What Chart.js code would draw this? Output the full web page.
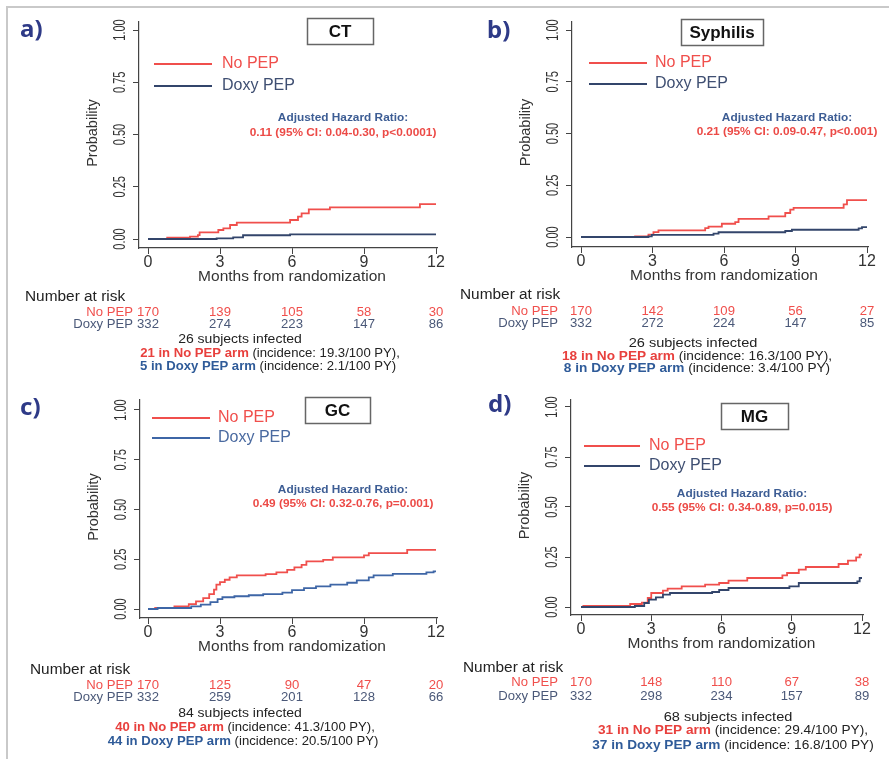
<!DOCTYPE html>
<html lang="en">
<head>
<meta charset="UTF-8">
<title>Doxy PEP cumulative incidence</title>
<script src="https://cdn.jsdelivr.net/npm/chart.js@4.4.1/dist/chart.umd.min.js"></script>
<style>
  body { margin: 0; background: #fff; }
  #wrap { position: relative; width: 889px; height: 759px; overflow: hidden; }
  #frame { position: absolute; left: 6px; top: 6px; width: 900px; height: 800px;
           border-top: 2px solid #c9c9c9; border-left: 2px solid #c9c9c9; }
  canvas { position: absolute; }
</style>
</head>
<body>
<div id="wrap">
  <div id="frame"></div>
  <canvas id="pa" width="445" height="385" style="left:0;top:0"></canvas>
  <canvas id="pb" width="444" height="385" style="left:445px;top:0"></canvas>
  <canvas id="pc" width="445" height="374" style="left:0;top:385px"></canvas>
  <canvas id="pd" width="444" height="374" style="left:445px;top:385px"></canvas>
</div>
<script>
// axis ticks
const months = [0, 3, 6, 9, 12];
const probTicks = [0, 0.25, 0.5, 0.75, 1];
const probLabels = ['0.00', '0.25', '0.50', '0.75', '1.00'];

// a) CT
const ctNoPepT = [0, 0.8, 1.75, 2.08, 2.15, 2.93, 3.14, 3.42, 3.7, 5.92, 6.25, 6.4, 6.7, 7.58, 11.33, 12];
const ctNoPep  = [0, 0.006, 0.011, 0.019, 0.032, 0.043, 0.051, 0.067, 0.078, 0.091, 0.107, 0.123, 0.142, 0.151, 0.167, 0.167];
const ctDoxyT  = [0, 2.86, 3.55, 3.96, 5.92, 12];
const ctDoxy   = [0, 0.003, 0.008, 0.018, 0.022, 0.022];
const ctRiskNoPep = [170, 139, 105, 58, 30];
const ctRiskDoxy  = [332, 274, 223, 147, 86];

// b) Syphilis
const syNoPepT = [0, 2.27, 2.83, 3.04, 3.25, 5.21, 5.35, 5.91, 6.47, 6.61, 7.87, 8.57, 8.78, 8.92, 11.02, 11.16, 12];
const syNoPep  = [0, 0.003, 0.011, 0.024, 0.032, 0.043, 0.05, 0.064, 0.072, 0.088, 0.1, 0.116, 0.132, 0.141, 0.158, 0.178, 0.178];
const syDoxyT  = [0, 2.83, 2.97, 5.56, 5.77, 8.57, 8.85, 11.65, 11.79, 12];
const syDoxy   = [0, 0.003, 0.01, 0.016, 0.023, 0.029, 0.035, 0.042, 0.048, 0.048];
const syRiskNoPep = [170, 142, 109, 56, 27];
const syRiskDoxy  = [332, 272, 224, 147, 85];

// c) GC
const gcNoPepT = [0, 0.3, 1.1, 1.7, 2.0, 2.3, 2.55, 2.75, 2.85, 3.0, 3.2, 3.4, 3.7, 4.9, 5.35, 5.8, 6.1, 6.4, 6.6, 7.3, 7.7, 9.0, 9.2, 10.8, 12];
const gcNoPep  = [0, 0.005, 0.013, 0.025, 0.038, 0.055, 0.075, 0.097, 0.122, 0.135, 0.147, 0.159, 0.169, 0.175, 0.184, 0.197, 0.209, 0.222, 0.239, 0.247, 0.259, 0.269, 0.281, 0.297, 0.297];
const gcDoxyT  = [0, 0.4, 1.8, 2.2, 2.6, 2.9, 3.1, 3.6, 4.2, 4.8, 5.6, 6.0, 6.5, 7.0, 7.6, 8.3, 8.7, 9.2, 9.4, 10.2, 11.6, 11.9, 12];
const gcDoxy   = [0, 0.005, 0.013, 0.022, 0.035, 0.05, 0.059, 0.064, 0.069, 0.075, 0.082, 0.095, 0.105, 0.114, 0.122, 0.132, 0.144, 0.159, 0.169, 0.177, 0.184, 0.189, 0.189];
const gcRiskNoPep = [170, 125, 90, 47, 20];
const gcRiskDoxy  = [332, 259, 201, 128, 66];

// d) MG
const mgNoPepT = [0, 0.1, 2.1, 2.6, 2.85, 3.0, 3.5, 3.7, 4.3, 5.3, 5.9, 6.3, 7.1, 8.6, 8.8, 9.3, 9.6, 11.0, 11.4, 11.75, 11.9, 12];
const mgNoPep  = [0, 0.005, 0.015, 0.022, 0.045, 0.07, 0.082, 0.092, 0.103, 0.112, 0.12, 0.132, 0.145, 0.158, 0.17, 0.187, 0.2, 0.215, 0.232, 0.248, 0.262, 0.262];
const mgDoxyT  = [0, 2.3, 2.7, 2.9, 3.2, 3.5, 3.8, 5.6, 5.9, 6.3, 8.9, 9.3, 11.8, 11.9, 12];
const mgDoxy   = [0, 0.005, 0.02, 0.037, 0.048, 0.062, 0.07, 0.075, 0.085, 0.095, 0.103, 0.12, 0.128, 0.145, 0.145];
const mgRiskNoPep = [170, 148, 110, 67, 38];
const mgRiskDoxy  = [332, 298, 234, 157, 89];

const RED = '#f04f4c';
const NAVY = '#33456b';
const MIDBLUE = '#3e66a6';
const SANS = '"Liberation Sans", Arial, sans-serif';

// one entry per panel: texts + where things go (page pixels)
const panels = [
  { id: 'pa', ox: 0, oy: 0, letter: 'a)', title: 'CT', doxyColor: NAVY,
    noT: ctNoPepT, no: ctNoPep, dxT: ctDoxyT, dx: ctDoxy, riskNo: ctRiskNoPep, riskDx: ctRiskDoxy,
    hr: '0.11 (95% CI: 0.04-0.30, p<0.0001)',
    sum: ['26 subjects infected', '21 in No PEP arm', ' (incidence: 19.3/100 PY),', '5 in Doxy PEP arm', ' (incidence: 2.1/100 PY)'],
    ax: { axisX: 139, t0X: 148, t12X: 436, p1Y: 30, p0Y: 239, axisY: 248, topY: 22 },
    box: [307, 18, 66, 26], let: [20, 30], leg: [154, 212, 222, 64, 86], hrPos: [343, 118, 133],
    risk: [25, 297, 133, 313, 325], sumX: [240, 270, 268], sumY: [340, 354, 367], sumFs: 12.5 },
  { id: 'pb', ox: 445, oy: 0, letter: 'b)', title: 'Syphilis', doxyColor: NAVY,
    noT: syNoPepT, no: syNoPep, dxT: syDoxyT, dx: syDoxy, riskNo: syRiskNoPep, riskDx: syRiskDoxy,
    hr: '0.21 (95% CI: 0.09-0.47, p<0.001)',
    sum: ['26 subjects infected', '18 in No PEP arm', ' (incidence: 16.3/100 PY),', '8 in Doxy PEP arm', ' (incidence: 3.4/100 PY)'],
    ax: { axisX: 572, t0X: 581, t12X: 867, p1Y: 30, p0Y: 237, axisY: 247, topY: 22 },
    box: [681, 19, 82, 26], let: [487, 31], leg: [589, 647, 655, 63, 84], hrPos: [787, 118, 132],
    risk: [460, 295, 558, 312, 324], sumX: [693, 697, 697], sumY: [343, 356, 368], sumFs: 13 },
  { id: 'pc', ox: 0, oy: 385, letter: 'c)', title: 'GC', doxyColor: MIDBLUE,
    noT: gcNoPepT, no: gcNoPep, dxT: gcDoxyT, dx: gcDoxy, riskNo: gcRiskNoPep, riskDx: gcRiskDoxy,
    hr: '0.49 (95% CI: 0.32-0.76, p=0.001)',
    sum: ['84 subjects infected', '40 in No PEP arm', ' (incidence: 41.3/100 PY),', '44 in Doxy PEP arm', ' (incidence: 20.5/100 PY)'],
    ax: { axisX: 140, t0X: 148, t12X: 436, p1Y: 410, p0Y: 609, axisY: 618, topY: 400 },
    box: [305, 397, 65, 26], let: [20, 408], leg: [152, 210, 218, 418, 438], hrPos: [343, 490, 504],
    risk: [30, 670, 133, 686, 698], sumX: [240, 245, 243], sumY: [714, 728, 742], sumFs: 12.5 },
  { id: 'pd', ox: 445, oy: 385, letter: 'd)', title: 'MG', doxyColor: NAVY,
    noT: mgNoPepT, no: mgNoPep, dxT: mgDoxyT, dx: mgDoxy, riskNo: mgRiskNoPep, riskDx: mgRiskDoxy,
    hr: '0.55 (95% CI: 0.34-0.89, p=0.015)',
    sum: ['68 subjects infected', '31 in No PEP arm', ' (incidence: 29.4/100 PY),', '37 in Doxy PEP arm', ' (incidence: 16.8/100 PY)'],
    ax: { axisX: 571, t0X: 581, t12X: 862, p1Y: 407, p0Y: 607, axisY: 615, topY: 400 },
    box: [721, 403, 67, 26], let: [488, 405], leg: [584, 640, 649, 446, 466], hrPos: [742, 494, 508],
    risk: [463, 668, 558, 683, 697], sumX: [728, 733, 733], sumY: [717, 730, 745], sumFs: 13 }
];

function pts(t, v) { return t.map((x, i) => ({ x: x, y: v[i] })); }

function txt(ctx, s, x, y, font, color, align, sx, rot) {
  ctx.save();
  ctx.translate(x, y);
  if (rot) ctx.rotate(rot);
  ctx.scale(sx || 1, 1);
  ctx.font = font;
  ctx.fillStyle = color;
  ctx.textAlign = align || 'left';
  ctx.textBaseline = 'middle';
  ctx.fillText(s, 0, 0);
  ctx.restore();
}

// mixed bold / plain line, centred on cx
function rich(ctx, parts, cx, y, sx) {
  let w = 0;
  parts.forEach(p => { ctx.font = p.font; w += ctx.measureText(p.t).width * sx; });
  let x = cx - w / 2;
  parts.forEach(p => {
    txt(ctx, p.t, x, y, p.font, p.color, 'left', sx);
    ctx.font = p.font;
    x += ctx.measureText(p.t).width * sx;
  });
}

function panelText(P) {
  return {
    id: 'panelText',
    afterDraw(chart) {
      const ctx = chart.ctx;
      const xs = chart.scales.x, ys = chart.scales.y;
      const L = (x) => x - P.ox, T = (y) => y - P.oy;
      const A = P.ax;

      // tick labels
      probTicks.forEach((v, i) => {
        txt(ctx, probLabels[i], L(A.axisX - 19), ys.getPixelForValue(v), '17px ' + SANS, '#333', 'center', 0.65, -Math.PI / 2);
      });
      months.forEach(m => {
        txt(ctx, String(m), xs.getPixelForValue(m), T(A.axisY + 15), '16px ' + SANS, '#333', 'center');
      });
      // axis titles
      txt(ctx, 'Probability', L(A.axisX - 46), T((A.topY + A.axisY) / 2 - 2), '14.5px ' + SANS, '#333', 'center', 1, -Math.PI / 2);
      txt(ctx, 'Months from randomization', (xs.getPixelForValue(0) + xs.getPixelForValue(12)) / 2, T(A.axisY + 29), '15.5px ' + SANS, '#333', 'center');

      // panel letter
      txt(ctx, P.letter, L(P.let[0]), T(P.let[1]), 'bold 24px "Noto Sans", sans-serif', '#2e3a87', 'left');

      // boxed title
      const b = P.box;
      ctx.save();
      ctx.fillStyle = '#fff';
      ctx.fillRect(L(b[0]), T(b[1]), b[2], b[3]);
      ctx.strokeStyle = '#666';
      ctx.lineWidth = 1.5;
      ctx.strokeRect(L(b[0]) + 0.5, T(b[1]) + 0.5, b[2], b[3]);
      ctx.restore();
      txt(ctx, P.title, L(b[0] + b[2] / 2), T(b[1] + b[3] / 2 + 1), 'bold 17px ' + SANS, '#111', 'center');

      // legend
      const g = P.leg;
      ctx.save();
      ctx.lineWidth = 2;
      ctx.strokeStyle = RED;
      ctx.beginPath(); ctx.moveTo(L(g[0]), T(g[3])); ctx.lineTo(L(g[1]), T(g[3])); ctx.stroke();
      ctx.strokeStyle = P.doxyColor;
      ctx.beginPath(); ctx.moveTo(L(g[0]), T(g[4])); ctx.lineTo(L(g[1]), T(g[4])); ctx.stroke();
      ctx.restore();
      txt(ctx, 'No PEP', L(g[2]), T(g[3]), '16px ' + SANS, RED, 'left');
      txt(ctx, 'Doxy PEP', L(g[2]), T(g[4]), '16px ' + SANS, P.doxyColor === NAVY ? '#3f4f72' : '#4a6aa0', 'left');

      // hazard ratio
      txt(ctx, 'Adjusted Hazard Ratio:', L(P.hrPos[0]), T(P.hrPos[1]), 'bold 11.5px ' + SANS, '#3d5d94', 'center', 1.03);
      txt(ctx, P.hr, L(P.hrPos[0]), T(P.hrPos[2]), 'bold 11.5px ' + SANS, '#ec4a46', 'center', 1.03);

      // number at risk
      const r = P.risk;
      txt(ctx, 'Number at risk', L(r[0]), T(r[1]), '14px ' + SANS, '#222', 'left', 1.1);
      txt(ctx, 'No PEP', L(r[2]), T(r[3]), '12.5px ' + SANS, RED, 'right', 1.05);
      txt(ctx, 'Doxy PEP', L(r[2]), T(r[4]), '12.5px ' + SANS, '#4a5878', 'right', 1.05);
      months.forEach((m, i) => {
        const x = xs.getPixelForValue(m);
        txt(ctx, String(P.riskNo[i]), x, T(r[3]), '12.5px ' + SANS, RED, 'center', 1.05);
        txt(ctx, String(P.riskDx[i]), x, T(r[4]), '12.5px ' + SANS, '#4a5878', 'center', 1.05);
      });

      // infected summary
      const fs = P.sumFs, s = P.sum;
      const plain = fs + 'px ' + SANS, bold = 'bold ' + fs + 'px ' + SANS;
      rich(ctx, [{ t: s[0], font: plain, color: '#222' }], L(P.sumX[0]), T(P.sumY[0]), 1.12);
      rich(ctx, [{ t: s[1], font: bold, color: '#e8403d' }, { t: s[2], font: plain, color: '#222' }], L(P.sumX[1]), T(P.sumY[1]), 1.05);
      rich(ctx, [{ t: s[3], font: bold, color: '#2f5b99' }, { t: s[4], font: plain, color: '#222' }], L(P.sumX[2]), T(P.sumY[2]), 1.05);
    }
  };
}

panels.forEach(P => {
  const cv = document.getElementById(P.id);
  const W = cv.width, H = cv.height;
  const A = P.ax;
  const pxm = (A.t12X - A.t0X) / 12;
  const pyu = A.p0Y - A.p1Y;
  const yW = 8, xH = 8;
  const grid = { drawOnChartArea: false, drawTicks: true, tickLength: 6, color: '#444', lineWidth: 1 };
  const border = { display: true, color: '#444', width: 1.2 };

  new Chart(cv, {
    type: 'line',
    data: {
      datasets: [
        { label: 'Doxy PEP', data: pts(P.dxT, P.dx), borderColor: P.doxyColor, borderWidth: 1.8,
          pointRadius: 0, stepped: 'before', fill: false },
        { label: 'No PEP', data: pts(P.noT, P.no), borderColor: RED, borderWidth: 1.8,
          pointRadius: 0, stepped: 'before', fill: false }
      ]
    },
    options: {
      responsive: false,
      animation: false,
      devicePixelRatio: 1,
      events: [],
      layout: { padding: {
        left: A.axisX - P.ox - yW,
        right: W - (A.t12X - P.ox + 1),
        top: A.topY - P.oy,
        bottom: H - (A.axisY - P.oy) - xH
      } },
      plugins: { legend: { display: false }, tooltip: { enabled: false } },
      scales: {
        x: {
          type: 'linear',
          min: -(A.t0X - A.axisX) / pxm,
          max: 12 + 1 / pxm,
          ticks: { display: false },
          afterBuildTicks: (s) => { s.ticks = months.map(v => ({ value: v })); },
          afterFit: (s) => { s.height = xH; },
          grid: grid, border: border
        },
        y: {
          type: 'linear',
          min: -(A.axisY - A.p0Y) / pyu,
          max: 1 + (A.p1Y - A.topY) / pyu,
          ticks: { display: false },
          afterBuildTicks: (s) => { s.ticks = probTicks.map(v => ({ value: v })); },
          afterFit: (s) => { s.width = yW; },
          grid: grid, border: border
        }
      }
    },
    plugins: [panelText(P)]
  });
});
</script>
</body>
</html>
